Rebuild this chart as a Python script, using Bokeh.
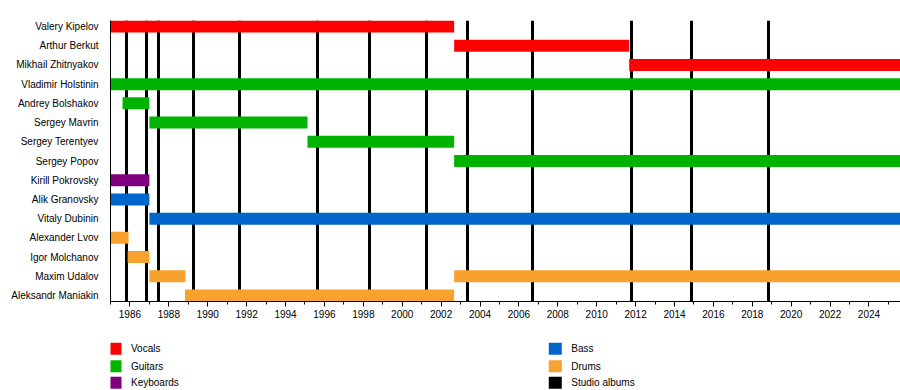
from bokeh.plotting import figure
from bokeh.models import FactorRange, Range1d, SingleIntervalTicker, ColumnDataSource
from bokeh.layouts import column
from bokeh.core.properties import value
from bokeh.embed import file_html
from bokeh.resources import INLINE

FONT = "Liberation Sans"

# ---- data ----
members = ["Valery Kipelov", "Arthur Berkut", "Mikhail Zhitnyakov", "Vladimir Holstinin",
           "Andrey Bolshakov", "Sergey Mavrin", "Sergey Terentyev", "Sergey Popov",
           "Kirill Pokrovsky", "Alik Granovsky", "Vitaly Dubinin", "Alexander Lvov",
           "Igor Molchanov", "Maxim Udalov", "Aleksandr Maniakin"]

bar_member = ["Valery Kipelov", "Arthur Berkut", "Mikhail Zhitnyakov", "Vladimir Holstinin",
              "Andrey Bolshakov", "Sergey Mavrin", "Sergey Terentyev", "Sergey Popov",
              "Kirill Pokrovsky", "Alik Granovsky", "Vitaly Dubinin", "Alexander Lvov",
              "Igor Molchanov", "Maxim Udalov", "Maxim Udalov", "Aleksandr Maniakin"]
bar_start = [1985.0, 2002.67, 2011.67, 1985.0,
             1985.62, 1987.0, 1995.13, 2002.67,
             1985.0, 1985.0, 1987.0, 1985.0,
             1985.88, 1987.0, 2002.67, 1988.83]
bar_end = [2002.67, 2011.67, 2025.8, 2025.8,
           1987.0, 1995.13, 2002.67, 2025.8,
           1987.0, 1987.0, 2025.8, 1985.93,
           1987.0, 1988.85, 2025.8, 2002.67]
bar_role = ["Vocals", "Vocals", "Vocals", "Guitars",
            "Guitars", "Guitars", "Guitars", "Guitars",
            "Keyboards", "Bass", "Bass", "Drums",
            "Drums", "Drums", "Drums", "Drums"]

album_years = [1985.82, 1986.84, 1987.48, 1989.27, 1991.63, 1995.64, 1998.32,
               2001.25, 2003.37, 2006.72, 2011.79, 2014.87, 2018.85]

role_names = ["Vocals", "Guitars", "Keyboards", "Bass", "Drums", "Studio albums"]
role_colors = ["#FF0000", "#00B300", "#800080", "#0066CC", "#F9A12E", "#000000"]

x_start, x_end = 1985.0, 2025.62

# ---- main timeline ----
color_of = dict(zip(role_names, role_colors))
src = ColumnDataSource(dict(member=bar_member, start=bar_start, end=bar_end,
                            color=[color_of[r] for r in bar_role]))

p = figure(width=900, height=332, output_backend="svg", toolbar_location=None,
           y_range=FactorRange(factors=list(reversed(members)),
                               range_padding=-0.1875, range_padding_units="absolute"),
           x_range=Range1d(x_start, x_end),
           min_border_left=110, min_border_right=0, min_border_top=20, min_border_bottom=31)
p.outline_line_color = None
p.xgrid.visible = False
p.ygrid.visible = False
p.background_fill_color = "white"
p.border_fill_color = "white"

p.vspan(x=album_years, line_width=3, line_color="black")
p.hbar(y="member", left="start", right="end", height=0.625, fill_color="color",
       line_color=None, source=src)

xa = p.xaxis[0]
xa.ticker = SingleIntervalTicker(interval=2, num_minor_ticks=2)
xa.axis_line_color = "black"
xa.major_tick_line_color = "black"
xa.minor_tick_line_color = "black"
xa.major_tick_in = 0
xa.major_tick_out = 5
xa.minor_tick_in = 0
xa.minor_tick_out = 3
xa.major_label_standoff = 3
xa.major_label_text_font = FONT
xa.major_label_text_font_size = "10px"
xa.major_label_text_color = "black"

ya = p.yaxis[0]
ya.axis_line_color = "black"
ya.major_tick_line_color = None
ya.minor_tick_line_color = None
ya.major_label_standoff = 6
ya.major_label_text_font = FONT
ya.major_label_text_font_size = "10px"
ya.major_label_text_color = "black"

# ---- legend ----
lg = figure(width=900, height=58, output_backend="svg", toolbar_location=None,
            x_range=Range1d(0, 790), y_range=Range1d(58, 0),
            x_axis_location=None, y_axis_location=None,
            min_border_left=110, min_border_right=0, min_border_top=0, min_border_bottom=0)
lg.outline_line_color = None
lg.xgrid.visible = False
lg.ygrid.visible = False
lg.border_fill_color = "white"
lg.background_fill_color = "white"

col_x = [-2, 438.3]
row_y = [16.3, 33.7, 50.3]
sw_x = [col_x[i // 3] + 6.5 for i in range(len(role_names))]
sw_y = [row_y[i % 3] for i in range(len(role_names))]
tx_x = [col_x[i // 3] + 22.5 for i in range(len(role_names))]
lg.rect(x=sw_x, y=sw_y, width=13, height=12, fill_color=role_colors, line_color=None)
lg.text(x=tx_x, y=sw_y, text=role_names, text_font=value(FONT), text_font_size=value("10px"),
        text_baseline="middle", text_color="black")

layout = column(p, lg, spacing=0)
open("out.html", "w").write(file_html(layout, INLINE))
